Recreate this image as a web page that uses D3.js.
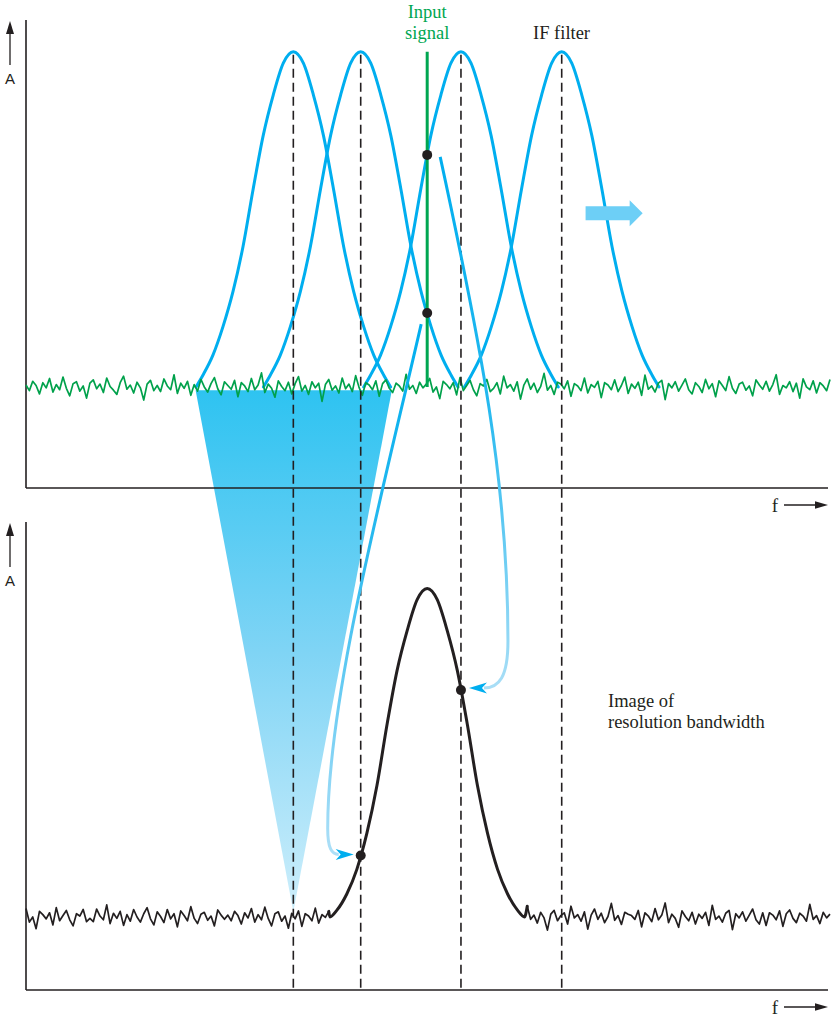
<!DOCTYPE html>
<html><head><meta charset="utf-8">
<script src="https://cdn.jsdelivr.net/npm/d3@7"></script>
<style>html,body{margin:0;padding:0;background:#fff;} svg{display:block;}</style>
</head><body><svg id="c" width="836" height="1018"></svg>
<script>
// ---------------- data ----------------
const filterCenters = [33.25, 41.63, 54.10, 66.63];      // IF filter positions during sweep (frequency units)
const signalFreq = 49.9;                                // input signal frequency
const imageCenter = 49.9;                               // centre of displayed RBW image
const profileOffsets = [0, 1.25, 2.5, 3.75, 5, 6.25, 7.5, 8.75, 10, 11.25, 12.1];
const filterValues   = [1, 0.966, 0.871, 0.75, 0.59, 0.42, 0.285, 0.18, 0.095, 0.035, 0];
const imageValues    = [1, 0.966, 0.871, 0.75, 0.585, 0.40, 0.255, 0.145, 0.07, 0.02, 0];
const topFloor = 21.6, topHeight = 71.6;                 // upper panel noise floor / filter height (amplitude units)
const bottomFloor = 15.6, bottomHeight = 70.2;           // lower panel
const noiseTop = [
 0.4,-0.8,1.2,0.3,-1.5,0.9,-0.2,1.8,-1.1,0.5,-0.6,2.1,-0.3,-1.9,0.7,1.1,-0.9,0.2,-2.4,0.8,
 1.5,-0.4,0.6,-1.2,1.9,0.1,-0.7,-1.6,0.9,2.3,-0.5,0.4,-1.3,1.0,-0.2,-2.8,0.6,1.4,-0.8,0.3,
 -1.0,1.7,0.2,-0.6,2.6,-1.4,0.8,-0.3,1.2,-1.8,0.5,-0.9,1.6,0.0,-1.1,0.7,2.0,-0.4,-1.7,1.1,
 0.3,-0.5,1.4,-2.1,0.9,0.2,-1.0,1.8,-0.6,0.4,3.0,-1.2,0.6,-0.3,-2.2,1.3,0.1,-0.8,1.0,-1.5,
 0.7,2.2,-0.9,0.3,-1.6,1.1,-0.2,0.8,-3.1,0.5,1.6,-0.7,0.2,-1.3,1.9,-0.4,0.6,-1.0,2.4,-0.1,
 -1.8,0.9,0.4,-0.6,1.3,-2.0,0.7,1.5,-0.3,-1.2,0.8,0.2,-0.9,2.7,-0.5,0.3,-1.4,1.0,-0.2,0.6,
 1.8,-1.1,0.0,-2.5,1.2,0.5,-0.4,0.9,-1.7,2.0,-0.8,0.3,1.4,-0.6,-1.9,0.7,0.2,1.6,-1.0,-0.3,
 0.9,-1.5,2.3,-0.2,0.5,-0.9,1.1,-2.6,0.4,1.7,-0.5,0.8,-1.2,0.1,2.9,-0.7,0.3,-1.6,1.0,0.6,
 -0.4,1.3,-2.0,0.7,0.2,-0.8,1.9,-1.3,0.5,-0.1,1.2,-2.3,0.9,0.4,-0.6,1.5,-1.0,0.3,2.1,-1.4,
 0.6,-0.3,1.0,-1.8,2.5,-0.5,0.2,-1.1,0.8,1.4,-2.7,0.7,-0.2,1.1,-0.9,0.4,1.7,-0.6,-1.5,0.9,
 0.1,-1.2,1.6,-0.4,0.7,-2.1,1.3,0.3,-0.8,2.2,-0.3,-1.4,0.6,1.0,-0.7,0.2,-1.9,1.5,0.4,-0.5,
 1.2,-0.9,0.5,2.6,-1.6,0.3,-0.2,1.1,-1.0,0.8,-2.4,1.7,0.0,-0.6,1.3,-1.3,0.9,0.2,-0.8,1.6];
const noiseBottom = [
 1.8,-1.1,0.0,-2.5,1.2,0.5,-0.4,0.9,-1.7,2.0,-0.8,0.3,1.4,-0.6,-1.9,0.7,0.2,1.6,-1.0,-0.3,
 -1.0,1.7,0.2,-0.6,2.6,-1.4,0.8,-0.3,1.2,-1.8,0.5,-0.9,1.6,0.0,-1.1,0.7,2.0,-0.4,-1.7,1.1,
 0.1,-1.2,1.6,-0.4,0.7,-2.1,1.3,0.3,-0.8,2.2,-0.3,-1.4,0.6,1.0,-0.7,0.2,-1.9,1.5,0.4,-0.5,
 0.4,-0.8,1.2,0.3,-1.5,0.9,-0.2,1.8,-1.1,0.5,-0.6,2.1,-0.3,-1.9,0.7,1.1,-0.9,0.2,-2.4,0.8,
 -0.4,1.3,-2.0,0.7,0.2,-0.8,1.9,-1.3,0.5,-0.1,1.2,-2.3,0.9,0.4,-0.6,1.5,-1.0,0.3,2.1,-1.4,
 0.7,2.2,-0.9,0.3,-1.6,1.1,-0.2,0.8,-3.1,0.5,1.6,-0.7,0.2,-1.3,1.9,-0.4,0.6,-1.0,2.4,-0.1,
 1.2,-0.9,0.5,2.6,-1.6,0.3,-0.2,1.1,-1.0,0.8,-2.4,1.7,0.0,-0.6,1.3,-1.3,0.9,0.2,-0.8,1.6,
 1.5,-0.4,0.6,-1.2,1.9,0.1,-0.7,-1.6,0.9,2.3,-0.5,0.4,-1.3,1.0,-0.2,-2.8,0.6,1.4,-0.8,0.3,
 0.9,-1.5,2.3,-0.2,0.5,-0.9,1.1,-2.6,0.4,1.7,-0.5,0.8,-1.2,0.1,2.9,-0.7,0.3,-1.6,1.0,0.6,
 0.3,-0.5,1.4,-2.1,0.9,0.2,-1.0,1.8,-0.6,0.4,3.0,-1.2,0.6,-0.3,-2.2,1.3,0.1,-0.8,1.0,-1.5,
 0.6,-0.3,1.0,-1.8,2.5,-0.5,0.2,-1.1,0.8,1.4,-2.7,0.7,-0.2,1.1,-0.9,0.4,1.7,-0.6,-1.5,0.9,
 -1.8,0.9,0.4,-0.6,1.3,-2.0,0.7,1.5,-0.3,-1.2,0.8,0.2,-0.9,2.7,-0.5,0.3,-1.4,1.0,-0.2,0.6];
const funnel = {left: 21.1, right: 45.5, apex: 33.25, topLevel: 20.9, apexLevel: 16.7};
const sweepArrow = {from: 69.6, to: 76.7, level: 58.7};
const labelsSignal = ["Input", "signal"];
const labelFilter = "IF filter";
const labelsImage = ["Image of", "resolution bandwidth"];
const axisLabelY = "A", axisLabelX = "f";

// ---------------- setup ----------------
const svg = d3.select("#c");
const x = d3.scaleLinear().domain([0, 100]).range([26, 830]);
const yT = d3.scaleLinear().domain([0, 100]).range([488, 20]);
const yB = d3.scaleLinear().domain([0, 100]).range([990, 522]);
const noiseGain = 1.0;
const ink = "#231f20", blue = "#00aeef", green = "#00a651";
const serif = "'Liberation Serif', 'Times New Roman', serif";
const sans = "'Liberation Sans', Arial, sans-serif";

function profileAt(vals, d) {
  d = Math.abs(d);
  const n = profileOffsets.length;
  if (d >= profileOffsets[n - 1]) return 0;
  let i = 0;
  while (profileOffsets[i + 1] < d) i++;
  const t = (d - profileOffsets[i]) / (profileOffsets[i + 1] - profileOffsets[i]);
  return vals[i] + t * (vals[i + 1] - vals[i]);
}
function fullProfile(vals) {
  const n = profileOffsets.length;
  const left = [];
  for (let i = n - 1; i > 0; i--) left.push([-profileOffsets[i], vals[i]]);
  return left.concat(profileOffsets.map((o, i) => [o, vals[i]]));
}

const defs = svg.append("defs");
function vGrad(id, y1, y2, stops) {
  const g = defs.append("linearGradient").attr("id", id).attr("gradientUnits", "userSpaceOnUse")
    .attr("x1", 0).attr("x2", 0).attr("y1", y1).attr("y2", y2);
  stops.forEach(s => g.append("stop").attr("offset", s[0]).attr("stop-color", s[1]));
}

// ---------------- funnel (triangle) ----------------
const fTopY = yT(funnel.topLevel), fApexY = yB(funnel.apexLevel);
vGrad("gFunnel", fTopY, fApexY, [[0, "#2ec3f1"], [0.5, "#7fd4f5"], [1, "#cdeefb"]]);
svg.append("path")
  .attr("d", d3.line()([[x(funnel.left), fTopY], [x(funnel.right), fTopY], [x(funnel.apex), fApexY]]) + "Z")
  .attr("fill", "url(#gFunnel)");

// ---------------- axes ----------------
function drawPanelAxes(yS, yAxisTop) {
  const y0 = yS(0);
  svg.append("line").attr("x1", x(0)).attr("x2", x(0)).attr("y1", yAxisTop).attr("y2", y0)
    .attr("stroke", ink).attr("stroke-width", 1.6);
  svg.append("line").attr("x1", x(0)).attr("x2", 828).attr("y1", y0).attr("y2", y0)
    .attr("stroke", ink).attr("stroke-width", 1.6);
  const ax = 10, aTip = yAxisTop + 1;
  svg.append("line").attr("x1", ax).attr("x2", ax).attr("y1", aTip + 44).attr("y2", aTip + 10)
    .attr("stroke", ink).attr("stroke-width", 1.3);
  svg.append("path").attr("d", `M${ax},${aTip} L${ax + 4},${aTip + 13} L${ax - 4},${aTip + 13}Z`).attr("fill", ink);
  svg.append("text").attr("x", ax).attr("y", aTip + 63).attr("text-anchor", "middle")
    .attr("font-family", sans).attr("font-size", 15).attr("fill", ink).text(axisLabelY);
  const fy = y0 + 17;
  svg.append("line").attr("x1", 784).attr("x2", 818).attr("y1", fy).attr("y2", fy)
    .attr("stroke", ink).attr("stroke-width", 1.3);
  svg.append("path").attr("d", `M828,${fy} L815,${fy - 3.8} L815,${fy + 3.8}Z`).attr("fill", ink);
  svg.append("text").attr("x", 775).attr("y", fy + 7).attr("text-anchor", "middle")
    .attr("font-family", serif).attr("font-size", 19).attr("fill", ink).text(axisLabelX);
}
drawPanelAxes(yT, 20);
drawPanelAxes(yB, 522);

// ---------------- IF filters (top) ----------------
const smooth = d3.line().x(d => d[0]).y(d => d[1]).curve(d3.curveMonotoneX);
const filterShape = fullProfile(filterValues);
filterCenters.forEach(c => {
  const pts = filterShape.map(p => [x(c + p[0]), yT(topFloor + topHeight * p[1])]);
  svg.append("path").attr("d", smooth(pts)).attr("fill", "none")
    .attr("stroke", blue).attr("stroke-width", 3).attr("stroke-linecap", "round");
});

// ---------------- sweep arrow ----------------
{
  const x0 = x(sweepArrow.from), x1 = x(sweepArrow.to), yc = yT(sweepArrow.level);
  const hx = x1 - 13;
  svg.append("path")
    .attr("d", `M${x0},${yc - 7} L${hx},${yc - 7} L${hx},${yc - 13} L${x1},${yc} L${hx},${yc + 13} L${hx},${yc + 7} L${x0},${yc + 7}Z`)
    .attr("fill", "#6dcff6");
}

// ---------------- noise (top) ----------------
const nStep = 100 / (noiseTop.length - 1);
const lin = d3.line().x(d => d[0]).y(d => d[1]);
svg.append("path")
  .attr("d", lin(noiseTop.map((v, i) => [x(i * nStep), yT(topFloor + v * noiseGain)])))
  .attr("fill", "none").attr("stroke", "#00a14b").attr("stroke-width", 1.7).attr("stroke-linejoin", "round");

// ---------------- input signal ----------------
svg.append("line").attr("x1", x(signalFreq)).attr("x2", x(signalFreq))
  .attr("y1", yT(topFloor + topHeight)).attr("y2", yT(topFloor))
  .attr("stroke", green).attr("stroke-width", 3);

// ---------------- RBW image (bottom) ----------------
{
  const half = profileOffsets[profileOffsets.length - 1];
  const lo = imageCenter - half, hi = imageCenter + half;
  const left = [], right = [];
  noiseBottom.forEach((v, i) => {
    const f = i * nStep;
    if (f < lo) left.push([x(f), yB(bottomFloor + v * noiseGain)]);
    else if (f > hi) right.push([x(f), yB(bottomFloor + v * noiseGain)]);
  });
  const mid = fullProfile(imageValues).map(p => [x(imageCenter + p[0]), yB(bottomFloor + bottomHeight * p[1])]);
  svg.append("path").attr("d", lin(left)).attr("fill", "none").attr("stroke", ink).attr("stroke-width", 1.7).attr("stroke-linejoin", "round");
  svg.append("path").attr("d", lin(right)).attr("fill", "none").attr("stroke", ink).attr("stroke-width", 1.7).attr("stroke-linejoin", "round");
  svg.append("path").attr("d", smooth([left[left.length - 1]].concat(mid, [right[0]]))).attr("fill", "none")
    .attr("stroke", ink).attr("stroke-width", 3).attr("stroke-linecap", "round");
}

// ---------------- dashed center lines ----------------
filterCenters.forEach(c => {
  svg.append("line").attr("x1", x(c)).attr("x2", x(c))
    .attr("y1", yT(topFloor + topHeight) + 3).attr("y2", yB(0))
    .attr("stroke", ink).attr("stroke-width", 1.6).attr("stroke-dasharray", "9,5");
});

// ---------------- mapping arrows ----------------
const pLow = [x(signalFreq), yT(topFloor + topHeight * profileAt(filterValues, signalFreq - filterCenters[1]))];
const pHigh = [x(signalFreq), yT(topFloor + topHeight * profileAt(filterValues, signalFreq - filterCenters[2]))];
const qLeft = [x(filterCenters[1]), yB(bottomFloor + bottomHeight * profileAt(imageValues, filterCenters[1] - imageCenter))];
const qRight = [x(filterCenters[2]), yB(bottomFloor + bottomHeight * profileAt(imageValues, filterCenters[2] - imageCenter))];

{
  const s = [pLow[0] - 6, pLow[1] + 11], e = [qLeft[0] - 25, qLeft[1] - 1];
  vGrad("gA1", s[1], e[1], [[0, "#00aeef"], [0.4, "#27b9ef"], [1, "#addff7"]]);
  const p = d3.path();
  p.moveTo(s[0], s[1]);
  p.bezierCurveTo(s[0] - 41, s[1] + 178, e[0] - 8, e[1] - 156, e[0] - 8, e[1] - 26);
  p.bezierCurveTo(e[0] - 8, e[1] - 6, e[0] - 4, e[1], e[0] + 3, e[1]);
  svg.append("path").attr("d", p.toString()).attr("fill", "none").attr("stroke", "url(#gA1)").attr("stroke-width", 3);
  const tip = qLeft[0] - 7;
  svg.append("path").attr("d", `M${tip},${e[1]} L${e[0]},${e[1] - 5.5} L${e[0] + 5},${e[1]} L${e[0]},${e[1] + 5.5}Z`).attr("fill", blue);
}
{
  const s = [pHigh[0] + 13, pHigh[1] + 2], e = [qRight[0] + 26, qRight[1] - 2];
  vGrad("gA2", s[1], e[1], [[0, "#00aeef"], [0.45, "#22b8ef"], [1, "#a9def6"]]);
  const p = d3.path();
  p.moveTo(s[0], s[1]);
  p.bezierCurveTo(s[0] + 40, s[1] + 185, e[0] + 21, e[1] - 207, e[0] + 21, e[1] - 47);
  p.bezierCurveTo(e[0] + 21, e[1] - 11, e[0] + 12, e[1], e[0] - 3, e[1]);
  svg.append("path").attr("d", p.toString()).attr("fill", "none").attr("stroke", "url(#gA2)").attr("stroke-width", 3);
  const tip = qRight[0] + 8;
  svg.append("path").attr("d", `M${tip},${e[1]} L${e[0]},${e[1] - 5.5} L${e[0] - 5},${e[1]} L${e[0]},${e[1] + 5.5}Z`).attr("fill", blue);
}

// ---------------- dots ----------------
[pLow, pHigh, qLeft, qRight].forEach(d => {
  svg.append("circle").attr("cx", d[0]).attr("cy", d[1]).attr("r", 5).attr("fill", ink);
});

// ---------------- labels ----------------
labelsSignal.forEach((t, i) => {
  svg.append("text").attr("x", x(signalFreq)).attr("y", 18 + i * 21).attr("text-anchor", "middle")
    .attr("font-family", serif).attr("font-size", 18.5).attr("fill", green).text(t);
});
svg.append("text").attr("x", 533).attr("y", 39).attr("font-family", serif).attr("font-size", 18.5)
  .attr("fill", ink).text(labelFilter);
labelsImage.forEach((t, i) => {
  svg.append("text").attr("x", 608).attr("y", 707 + i * 21).attr("font-family", serif).attr("font-size", 18.5)
    .attr("fill", ink).text(t);
});
</script>
</body></html>
